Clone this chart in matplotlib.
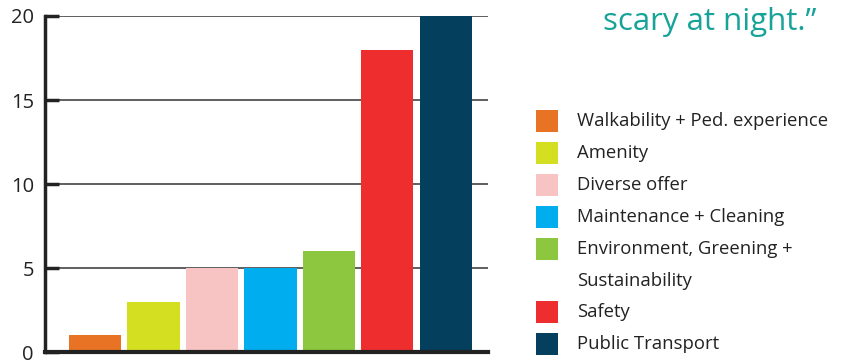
import matplotlib.pyplot as plt
from matplotlib.patches import Rectangle

plt.rcParams['font.family'] = ['Open Sans', 'DejaVu Sans']

categories = [
    "Walkability + Ped. experience",
    "Amenity",
    "Diverse offer",
    "Maintenance + Cleaning",
    "Environment, Greening +\nSustainability",
    "Safety",
    "Public Transport",
]
counts = [1, 3, 5, 5, 6, 18, 20]
colors = ["#E87324", "#D5DF22", "#F7C4C3", "#00AEEF", "#8DC63F", "#EE2D2E", "#053F5E"]
yticks = [0, 5, 10, 15, 20]

fig = plt.figure(figsize=(8.57, 3.63), dpi=100)
ax = fig.add_axes([0.0525, 0.030, 0.517, 0.926])

xs = range(len(counts))
ax.bar(xs, counts, width=0.89, color=colors, zorder=3)

ax.set_xlim(-0.855, 6.72)
ax.set_ylim(0, 20)
ax.set_xticks([])
ax.set_yticks(yticks)
ax.set_yticklabels([str(t) for t in yticks], fontsize=14.5, color="#222222")
ax.tick_params(axis="y", direction="in", length=10, width=2.5, color="#222222", pad=8)
ax.yaxis.grid(True, color="#444444", linewidth=1.2, zorder=1)

for side in ("top", "right"):
    ax.spines[side].set_visible(False)
ax.spines["left"].set_linewidth(2.5)
ax.spines["left"].set_color("#222222")
ax.spines["bottom"].set_linewidth(3)
ax.spines["bottom"].set_color("#222222")
ax.spines["bottom"].set_zorder(4)

# quote fragment above the legend
fig.text(710 / 857, 1 - 22 / 363, "scary at night.\u201d", color="#17A398",
         fontsize=22.5, ha="center", va="center")

# legend: colour squares with labels, one row per category
W, H = 857, 363
row_y = 121
row_step = 31.9
for label, c in zip(categories, colors):
    fig.add_artist(Rectangle((536 / W, 1 - (row_y + 11) / H), 22 / W, 22 / H,
                             transform=fig.transFigure, facecolor=c, edgecolor="none"))
    lines = label.split("\n")
    for k, line in enumerate(lines):
        fig.text(577 / W, 1 - (row_y + k * row_step) / H, line, fontsize=13.3,
                 color="#222222", ha="left", va="center")
    row_y += row_step * len(lines)

fig.savefig("out.png", dpi=100)
